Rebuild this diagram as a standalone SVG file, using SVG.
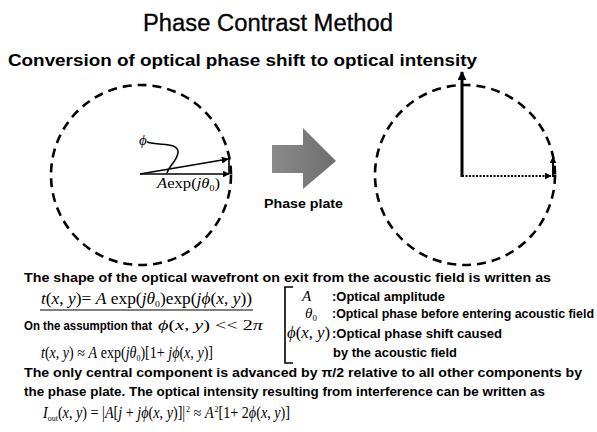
<svg xmlns="http://www.w3.org/2000/svg" width="597" height="432" viewBox="0 0 597 432">
<defs>
<style>
.sans{font-family:"Liberation Sans",Arial,sans-serif;fill:#000}
.b{font-weight:bold}
.m{font-family:"Liberation Serif","Times New Roman",serif;font-style:italic;fill:#000}
.r{font-style:normal}
.circ{fill:none;stroke:#000;stroke-width:2.6;stroke-dasharray:9 6}
.ln{fill:none;stroke:#000;stroke-width:1.6}
</style>
<marker id="ah" viewBox="0 0 10 10" refX="9" refY="5" markerWidth="7" markerHeight="7" markerUnits="userSpaceOnUse" orient="auto">
<path d="M0,0 L10,5 L0,10 z" fill="#000"/>
</marker>
<marker id="ah2" viewBox="0 0 10 10" refX="9" refY="5" markerWidth="9" markerHeight="9" markerUnits="userSpaceOnUse" orient="auto">
<path d="M0,0 L10,5 L0,10 z" fill="#000"/>
</marker>
<linearGradient id="g" x1="0" y1="0" x2="1" y2="0">
<stop offset="0" stop-color="#8a8a8a"/>
<stop offset="1" stop-color="#6e6e6e"/>
</linearGradient>
</defs>
<rect width="597" height="432" fill="#fff"/>

<text class="sans" x="143" y="31" font-size="23" stroke="#000" stroke-width="0.3" textLength="250" lengthAdjust="spacingAndGlyphs">Phase Contrast Method</text>
<text class="sans b" x="8" y="66" font-size="16" textLength="469" lengthAdjust="spacingAndGlyphs">Conversion of optical phase shift to optical intensity</text>

<g id="left-circle">
<circle class="circ" cx="141" cy="175" r="90"/>
</g>

<g id="connectors">
<line class="ln" x1="140" y1="174" x2="229" y2="174" marker-end="url(#ah)"/>
<line class="ln" x1="140" y1="174" x2="228" y2="159" marker-end="url(#ah)"/>
<line class="ln" x1="229" y1="174" x2="229" y2="158"/>
<path class="ln" d="M147,142 C160,146 178,142 178,152 C178,160 170,164 167,173" stroke-width="1.2"/>
<line x1="462" y1="177" x2="462" y2="72" stroke="#000" stroke-width="3" marker-end="url(#ah2)"/>
<line x1="462" y1="176" x2="551" y2="176" stroke="#000" stroke-width="2" stroke-dasharray="2 1.5" marker-end="url(#ah)"/>
<line x1="553" y1="177" x2="553" y2="157" stroke="#000" stroke-width="2" marker-end="url(#ah)"/>
</g>

<g id="left-labels">
<text class="m" x="139" y="145" font-size="15">ϕ</text>
<text class="m" x="157" y="188" font-size="15" textLength="63" lengthAdjust="spacingAndGlyphs">A<tspan class="r">exp(</tspan>jθ<tspan class="r" font-size="9" dy="3">0</tspan><tspan class="r" dy="-3">)</tspan></text>
</g>

<g id="phase-plate">
<path d="M272,145 L303,145 L303,128 L336,161 L303,189 L303,173 L272,173 z" fill="url(#g)"/>
<text class="sans b" x="264" y="208" font-size="13" textLength="79" lengthAdjust="spacingAndGlyphs">Phase plate</text>
</g>

<g id="right-circle">
<circle class="circ" cx="465" cy="175" r="90"/>
</g>

<g id="text-block">
<text class="sans b" x="24" y="282" font-size="13" textLength="527" lengthAdjust="spacingAndGlyphs">The shape of the optical wavefront on exit from the acoustic field is written as</text>
<text class="m" x="41" y="304" font-size="16" textLength="211" lengthAdjust="spacingAndGlyphs">t<tspan class="r">(</tspan>x<tspan class="r">, </tspan>y<tspan class="r">)= </tspan>A<tspan class="r"> exp(</tspan>jθ<tspan class="r" font-size="9" dy="3">0</tspan><tspan class="r" dy="-3">)exp(</tspan>jϕ<tspan class="r">(</tspan>x<tspan class="r">, </tspan>y<tspan class="r">))</tspan></text>
<line x1="40" y1="310" x2="253" y2="310" stroke="#000" stroke-width="1"/>
<text class="sans b" x="24" y="330" font-size="12.5" textLength="128" lengthAdjust="spacingAndGlyphs">On the assumption that</text>
<text class="m" x="158" y="330" font-size="15" textLength="105" lengthAdjust="spacingAndGlyphs">ϕ<tspan class="r">(</tspan>x<tspan class="r">, </tspan>y<tspan class="r">) &lt;&lt; 2</tspan>π</text>
<text class="m" x="41" y="358" font-size="16" textLength="172" lengthAdjust="spacingAndGlyphs">t<tspan class="r">(</tspan>x<tspan class="r">, </tspan>y<tspan class="r">) ≈ </tspan>A<tspan class="r"> exp(</tspan>jθ<tspan class="r" font-size="9" dy="3">0</tspan><tspan class="r" dy="-3">)[1+ </tspan>jϕ<tspan class="r">(</tspan>x<tspan class="r">, </tspan>y<tspan class="r">)]</tspan></text>

<path d="M293,287 L285,287 L285,363 L293,363" fill="none" stroke="#000" stroke-width="1.6"/>
<text class="m" x="302" y="301" font-size="15">A</text>
<text class="sans b" x="332" y="301" font-size="12" textLength="113" lengthAdjust="spacingAndGlyphs">:Optical amplitude</text>
<text class="m" x="305" y="318" font-size="15">θ<tspan class="r" font-size="9" dy="3">0</tspan></text>
<text class="sans b" x="332" y="318" font-size="12" textLength="262" lengthAdjust="spacingAndGlyphs">:Optical phase before entering acoustic field</text>
<text class="m" x="287" y="338" font-size="16" textLength="43" lengthAdjust="spacingAndGlyphs">ϕ<tspan class="r">(</tspan>x<tspan class="r">, </tspan>y<tspan class="r">)</tspan></text>
<text class="sans b" x="332" y="338" font-size="12" textLength="170" lengthAdjust="spacingAndGlyphs">:Optical phase shift caused</text>
<text class="sans b" x="333" y="357" font-size="12" textLength="124" lengthAdjust="spacingAndGlyphs">by the acoustic field</text>

<text class="sans b" x="24" y="377" font-size="13" textLength="558" lengthAdjust="spacingAndGlyphs">The only central component is advanced by π/2 relative to all other components by</text>
<text class="sans b" x="24" y="396" font-size="13" textLength="521" lengthAdjust="spacingAndGlyphs">the phase plate. The optical intensity resulting from interference can be written as</text>
<text class="m" x="43" y="418" font-size="16" textLength="247" lengthAdjust="spacingAndGlyphs">I<tspan class="r" font-size="9" dy="3">out</tspan><tspan class="r" dy="-3">(</tspan>x<tspan class="r">, </tspan>y<tspan class="r">) = |</tspan>A<tspan class="r">[</tspan>j<tspan class="r"> + </tspan>jϕ<tspan class="r">(</tspan>x<tspan class="r">, </tspan>y<tspan class="r">)]|</tspan><tspan class="r" font-size="9" dy="-6" dx="1">2</tspan><tspan class="r" dy="6"> ≈ </tspan>A<tspan class="r" font-size="9" dy="-6" dx="1">2</tspan><tspan class="r" dy="6">[1+ 2</tspan>ϕ<tspan class="r">(</tspan>x<tspan class="r">, </tspan>y<tspan class="r">)]</tspan></text>
</g>
</svg>
